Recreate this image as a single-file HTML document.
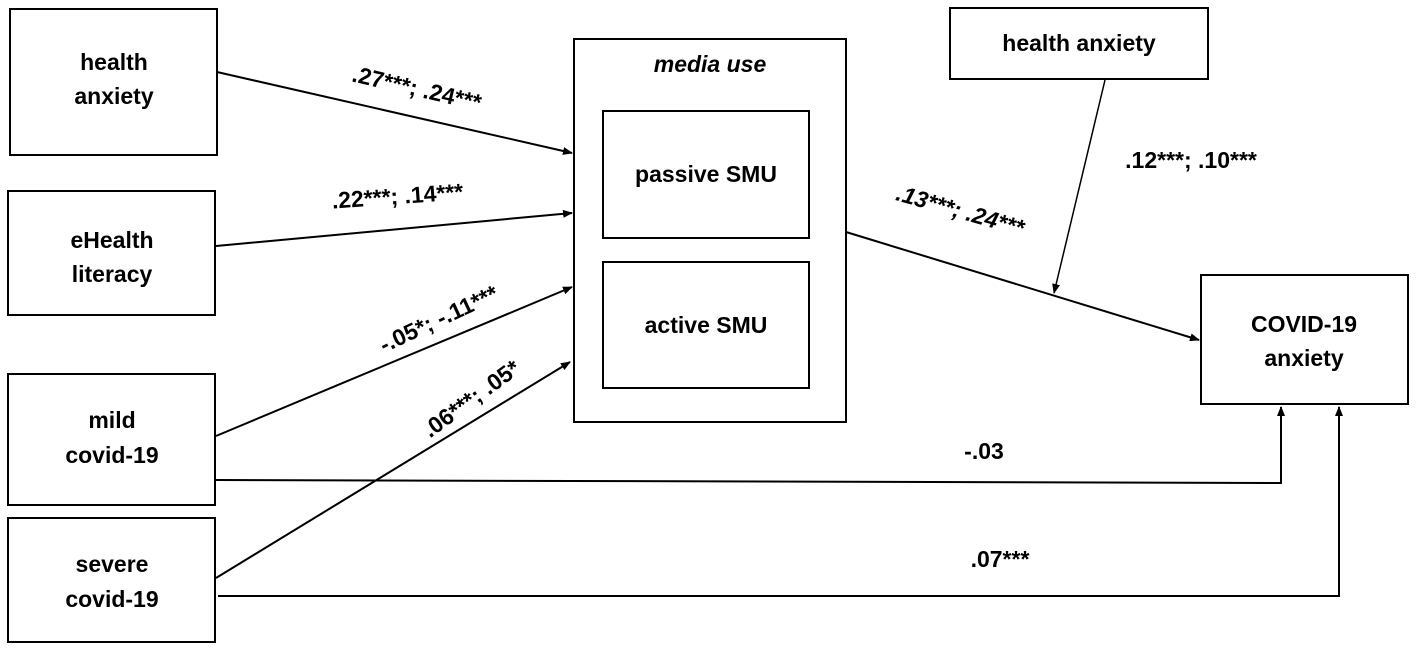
<!DOCTYPE html>
<html><head><style>body{margin:0;background:#fff}svg{display:block}text{font-family:"Liberation Sans",sans-serif;font-weight:bold;font-size:23px;fill:#000}</style></head>
<body>
<svg width="1418" height="654" viewBox="0 0 1418 654">
<defs><marker id="a" markerWidth="10" markerHeight="8" refX="9" refY="4" orient="auto" markerUnits="userSpaceOnUse"><path d="M0,0 L10,4 L0,8 z" fill="#000"/></marker></defs>
<g fill="none" stroke="#000" stroke-width="2">
<rect x="10" y="9" width="207" height="146"/>
<rect x="8" y="191" width="207" height="124"/>
<rect x="8" y="374" width="207" height="131"/>
<rect x="8" y="518" width="207" height="124"/>
<rect x="574" y="39" width="272" height="383"/>
<rect x="603" y="111" width="206" height="127"/>
<rect x="603" y="262" width="206" height="126"/>
<rect x="950" y="8" width="258" height="71"/>
<rect x="1201" y="275" width="207" height="129"/>
<line x1="217" y1="72" x2="572" y2="153" marker-end="url(#a)"/>
<line x1="216" y1="246" x2="572" y2="213" marker-end="url(#a)"/>
<line x1="216" y1="436" x2="572" y2="287" marker-end="url(#a)"/>
<line x1="216" y1="578" x2="570" y2="362" marker-end="url(#a)"/>
<line x1="846" y1="232" x2="1199" y2="340" marker-end="url(#a)"/>
<line x1="1105" y1="80" x2="1054" y2="293" marker-end="url(#a)" stroke-width="1.5"/>
<polyline points="216,480 1281,483 1281,407" marker-end="url(#a)"/>
<polyline points="218,596 1339,596 1339,407" marker-end="url(#a)"/>
</g>
<g text-anchor="middle">
<text x="114" y="70">health</text><text x="114" y="104">anxiety</text>
<text x="112" y="248">eHealth</text><text x="112" y="282">literacy</text>
<text x="112" y="428">mild</text><text x="112" y="463">covid-19</text>
<text x="112" y="572">severe</text><text x="112" y="607">covid-19</text>
<text x="710" y="72" font-style="italic">media use</text>
<text x="706" y="182">passive SMU</text>
<text x="706" y="333">active SMU</text>
<text x="1079" y="51">health anxiety</text>
<text x="1304" y="332">COVID-19</text><text x="1304" y="366">anxiety</text>
<text x="984" y="459" font-size="24">-.03</text>
<text x="1000" y="567" font-size="24">.07***</text>
<text x="1191" y="168" font-size="24">.12***; .10***</text>
<text transform="translate(415,96) rotate(13)" font-size="24">.27***; .24***</text>
<text transform="translate(398,204) rotate(-4)" font-size="24">.22***; .14***</text>
<text transform="translate(442,326) rotate(-25)" font-size="24">-.05*; -.11***</text>
<text transform="translate(476,405) rotate(-36)" font-size="24">.06***; .05*</text>
<text transform="translate(958,218) rotate(16)" font-style="italic" font-size="24">.13***; .24***</text>
</g>
</svg>
</body></html>
